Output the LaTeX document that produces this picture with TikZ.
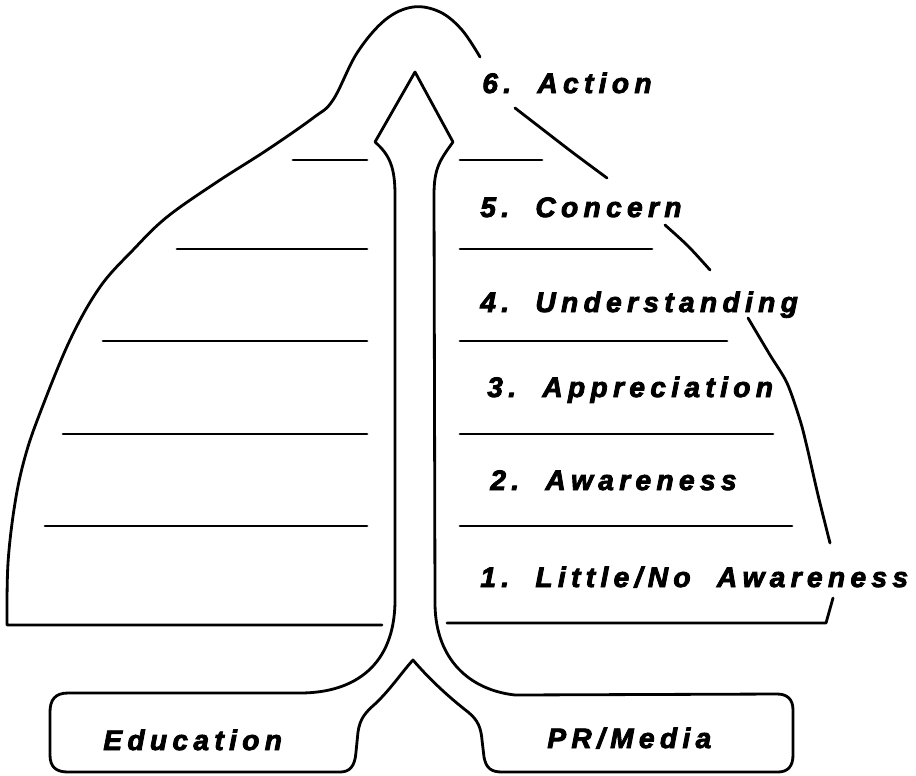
\documentclass[tikz,border=0pt]{standalone}
\usepackage{fontspec}
\newfontfamily\stagefont{Liberation Sans Bold Italic}[LetterSpace=19, FakeBold=3]

\tikzset{
  outline/.style={line width=1.6pt, line join=round, line cap=round},
  stage/.style={anchor=base west, inner sep=0pt,
    font=\stagefont\fontsize{16}{19}\selectfont}
}

\begin{document}
\begin{tikzpicture}[x=0.02cm, y=-0.02cm]
\useasboundingbox (0,0) rectangle (916,775);
% the dome, left side and top
\draw[outline] (382,625) -- (7,625) -- plot[smooth, tension=0.6] coordinates {(7,625) (8,563) (15,503) (25,457) (40,413) (70,340) (100,287) (133,250) (167,217) (217,182) (267,150) (313,118) (333,100) (357,53) (385,20) (413,7) (440,12) (462,30) (480,57)};
% the dome, right side (broken by the labels)
\draw[outline] plot[smooth] coordinates {(515,108) (537,125) (572,152) (607,178)};
\draw[outline] plot[smooth] coordinates {(665,225) (688,246) (710,270)};
\draw[outline] plot[smooth] coordinates {(748,318) (770,355) (787,383) (800,420) (807,447) (818,495) (830,543)};
\draw[outline] (833,598) -- (826,623) -- (447,623);
% levels
\foreach \xa/\y in {293/160, 177/249, 103/341, 63/434, 45/526}
  \draw[outline] (\xa,\y) -- (367,\y);
\foreach \xb/\y in {542/160, 652/249, 727/341, 773/434, 792/526}
  \draw[outline] (460,\y) -- (\xb,\y);
% arrow with the two boxes
\draw[outline] (375,142) .. controls (390,155) and (395,168) .. (395,195)
  -- (395,600) .. controls (395,665) and (355,693) .. (300,693)
  -- (68,693) .. controls (55,693) and (50,700) .. (50,712)
  -- (50,755) .. controls (50,767) and (56,772) .. (68,772)
  -- (340,772) .. controls (350,772) and (355,766) .. (356,752)
  -- (358,732) .. controls (360,718) and (366,712) .. (375,704)
  .. controls (390,690) and (402,672) .. (413,660)
  .. controls (430,680) and (450,698) .. (468,712)
  .. controls (478,720) and (481,728) .. (482,740)
  -- (484,757) .. controls (486,768) and (491,772) .. (502,772)
  -- (778,772) .. controls (788,772) and (793,766) .. (793,755)
  -- (793,710) .. controls (793,699) and (787,694) .. (777,694)
  -- (515,695) .. controls (470,690) and (436,660) .. (435,605)
  -- (434,195) .. controls (434,168) and (440,160) .. (453,142)
  -- (415,72) -- cycle;
% labels
\node[stage] (action) at (482,93) {6.\ \ Action};
\node[stage] (concern) at (480,217) {5.\ \ Concern};
\node[stage] (underst) at (480,312) {4.\ \ Understanding};
\node[stage] (apprec) at (487,397) {3.\ \ Appreciation};
\node[stage] (aware) at (490,490) {2.\ \ Awareness};
\node[stage] (noaware) at (480,587) {1.\ \ Little/No\ \ Awareness};
\node[stage] (educ) at (103,750) {Education};
\node[stage] (media) at (547,748) {PR/Media};
\end{tikzpicture}
\end{document}
